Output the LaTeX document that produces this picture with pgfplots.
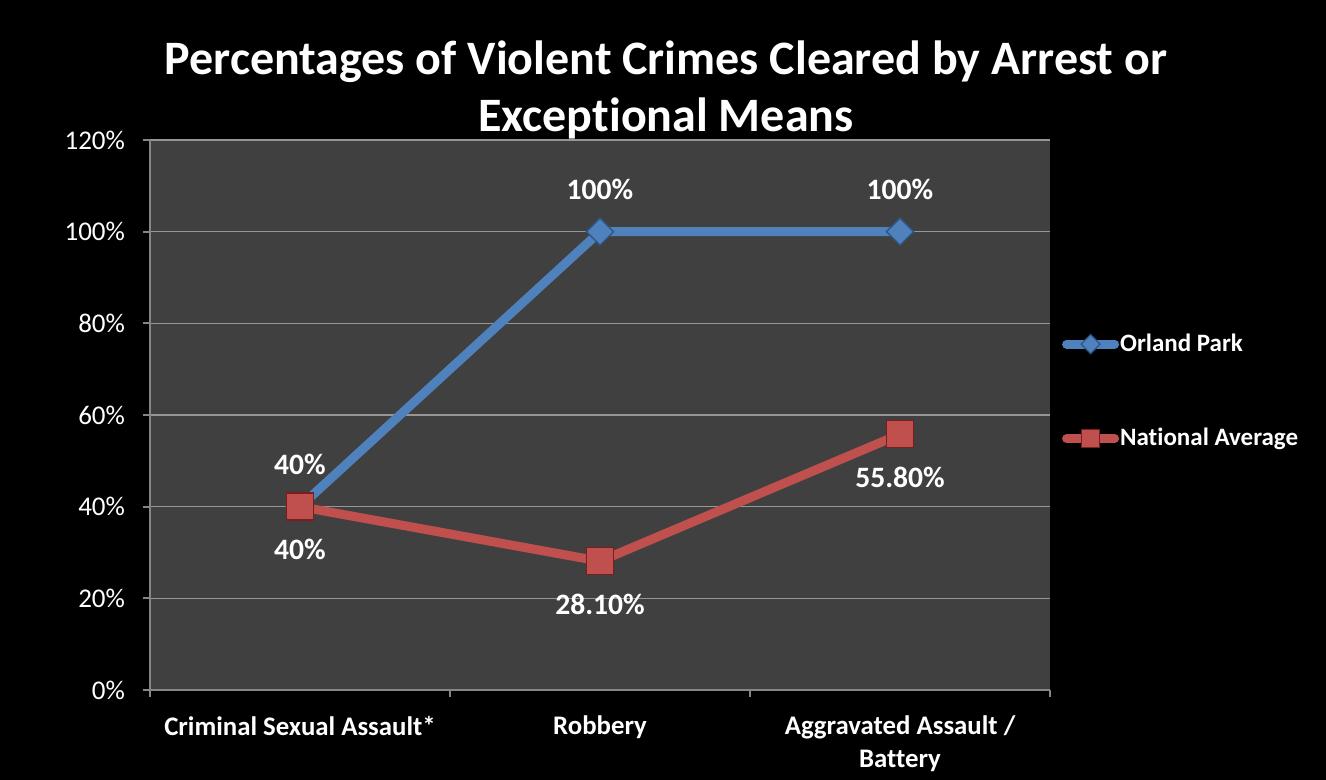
\documentclass[border=0pt]{standalone}
\usepackage{pgfplots}
\pgfplotsset{compat=1.18}
\usepackage{fontspec}
\setmainfont{Carlito}[Ligatures=NoCommon]
\definecolor{bgplot}{RGB}{64,64,64}
\definecolor{opblue}{RGB}{79,129,189}
\definecolor{opbluedark}{RGB}{45,85,135}
\definecolor{nared}{RGB}{192,80,77}
\definecolor{nareddark}{RGB}{120,30,30}
\definecolor{gridgray}{RGB}{150,150,150}
\definecolor{axisgray}{RGB}{134,134,134}
\begin{document}
\begin{tikzpicture}
\fill[black] (0,0) rectangle (663pt,390pt);
\useasboundingbox (0,0) rectangle (663pt,390pt);
\node[white, font=\fontsize{24}{28.5}\selectfont\bfseries, align=center] at (333pt,345pt)
  {Percentages of Violent Crimes Cleared by Arrest or\\Exceptional Means};
\begin{axis}[
  at={(75pt,45pt)}, anchor=south west,
  scale only axis, width=450pt, height=275pt,
  xmin=-0.5, xmax=2.5, ymin=0, ymax=120,
  axis background/.style={fill=bgplot},
  axis x line*=bottom, axis y line*=left,
  axis line style={axisgray, line width=1pt, -},
  tick align=outside,
  major tick length=3.5pt, minor tick length=3.5pt,
  tick style={axisgray, line width=1pt},
  ytick={0,20,...,120},
  yticklabels={0\%,20\%,40\%,60\%,80\%,100\%,120\%},
  yticklabel style={font=\fontsize{13.5}{15}\selectfont, text=white, xshift=-5.5pt},
  ymajorgrids, grid style={gridgray, line width=0.8pt},
  xtick={0,1,2},
  xticklabels={Criminal Sexual Assault*, Robbery, Aggravated Assault /\\Battery},
  major x tick style={draw=none},
  minor xtick={-0.5,0.5,1.5,2.5},
  xticklabel style={font=\fontsize{13.4}{16.5}\selectfont\bfseries, text=white, align=center, yshift=-6pt},
  legend style={at={(1.013,0.543)}, anchor=west, draw=none, fill=none, text=white,
    font=\fontsize{12.5}{15}\selectfont\bfseries, row sep=36pt, inner sep=0pt,
    nodes={inner sep=0.5pt}},
  legend cell align=left,
  clip=false,
  point meta=explicit symbolic,
  nodes near coords,
  every node near coord/.append style={font=\fontsize{14.8}{17}\selectfont\bfseries, text=white, anchor=center},
]
\addplot[opblue, line width=4.5pt, mark=square*, mark size=4.8pt,
  mark options={rotate=45, fill=opblue, draw=opbluedark, line width=0.7pt},
  every node near coord/.append style={yshift=21pt},
  legend image code/.code={\draw[opblue, line width=4.5pt, line cap=round] (2.25pt,0pt) -- (26.25pt,0pt);
    \draw[fill=opblue, draw=opbluedark, line width=0.6pt] (14.25pt,4.75pt) -- (19pt,0pt) -- (14.25pt,-4.75pt) -- (9.5pt,0pt) -- cycle;}]
  coordinates {(0,40) [40\%] (1,100) [100\%] (2,100) [100\%]};
\addlegendentry{Orland Park}
\addplot[nared, line width=4.5pt, mark=square*, mark size=6.75pt,
  mark options={fill=nared, draw=nareddark, line width=0.7pt},
  every node near coord/.append style={yshift=-21.5pt},
  legend image code/.code={\draw[nared, line width=4.5pt, line cap=round] (2.25pt,0pt) -- (26.25pt,0pt);
    \draw[fill=nared, draw=nareddark, line width=0.6pt] (9.75pt,-4.5pt) rectangle (18.75pt,4.5pt);}]
  coordinates {(0,40) [40\%] (1,28.1) [28.10\%] (2,55.8) [55.80\%]};
\addlegendentry{National Average}
\end{axis}
\end{tikzpicture}
\end{document}
